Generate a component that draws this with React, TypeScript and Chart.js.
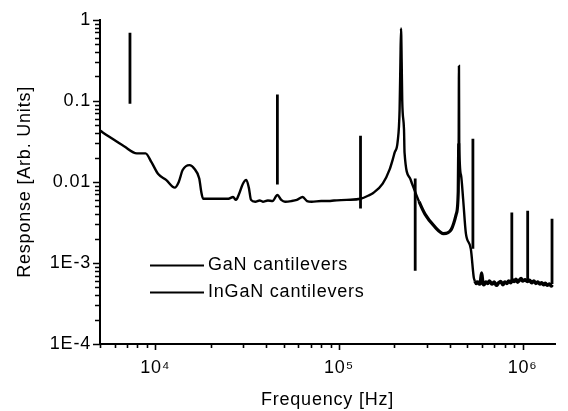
import React, { useEffect, useRef } from "react";
import { Chart, registerables } from "chart.js";

Chart.register(...registerables);

// GaN cantilevers: broad response curve (Hz, arb. units)
const ganFreq = [
  5000, 5620, 6760, 7930, 8850, 9530, 10370, 11450, 12770, 13420, 14090, 15360,
  16320, 17350, 17800, 18200, 22000, 25000, 26500, 27500, 28500, 30000, 31300,
  32300, 33200, 35000, 37000, 38500, 41000, 43500, 46200, 48500, 50900, 55000,
  59000, 63500, 67000, 71000, 80000, 88000, 94000, 110000, 131000, 145000,
  153600, 173000, 189000, 196300, 200900, 208500, 213900, 216000, 217700,
  219500, 221000, 226000, 227500, 244000, 250000, 273000, 294000, 332000,
  371000, 409000, 435000, 446000, 448500, 450000, 451500, 462000, 474000,
  491000, 522000, 542000, 550000, 560000, 570000, 580000, 590000, 598000,
  606000, 615000, 630000, 645000, 660000, 680000, 700000, 720000, 740000,
  760000, 780000, 800000, 820000, 840000, 860000, 880000, 900000, 920000,
  940000, 960000, 980000, 1000000, 1030000, 1060000, 1090000, 1120000, 1150000,
  1180000, 1210000, 1240000, 1270000, 1300000, 1330000, 1360000, 1400000,
  1430000, 1450000,
];
const ganResp = [
  0.043, 0.036, 0.0275, 0.0225, 0.0225, 0.0175, 0.0125, 0.0106, 0.0085, 0.01,
  0.014, 0.0161, 0.0145, 0.011, 0.0075, 0.0062, 0.0062, 0.0062, 0.0065, 0.006,
  0.007, 0.0095, 0.0106, 0.0085, 0.006, 0.0057, 0.0059, 0.0057, 0.0059, 0.0058,
  0.0069, 0.006, 0.0057, 0.0058, 0.006, 0.0065, 0.0058, 0.0057, 0.0058, 0.0058,
  0.0059, 0.006, 0.0062, 0.0068, 0.0073, 0.0095, 0.0144, 0.019, 0.023, 0.031,
  0.08, 0.3, 0.78, 0.3, 0.1, 0.044, 0.023, 0.011, 0.0095, 0.0057, 0.004, 0.0028,
  0.0023, 0.0026, 0.004, 0.0076, 0.03, 0.27, 0.03, 0.012, 0.0062, 0.0023,
  0.0015, 0.00066, 0.0006, 0.00056, 0.00058, 0.00055, 0.00059, 0.00075,
  0.00057, 0.00054, 0.00058, 0.00056, 0.0006, 0.00055, 0.00058, 0.00053,
  0.00057, 0.00059, 0.00054, 0.00058, 0.00056, 0.0006, 0.00057, 0.00062,
  0.00059, 0.00063, 0.00058, 0.00061, 0.00064, 0.0006, 0.00062, 0.00059,
  0.00061, 0.00057, 0.0006, 0.00056, 0.00058, 0.00055, 0.00057, 0.00054,
  0.00056, 0.00053, 0.00055, 0.00052, 0.00054,
];

// InGaN cantilevers: narrow resonance lines (Hz, low and high response)
const inganFreq = [7280, 46200, 131000, 260000, 536000, 873000, 1065000, 1445000];
const inganLow = [0.092, 0.0093, 0.0047, 0.0008, 0.0015, 0.00057, 0.0006, 0.00055];
const inganHigh = [0.69, 0.12, 0.037, 0.011, 0.034, 0.0042, 0.0044, 0.0035];

const xTickLabels: Record<number, string> = {
  4: "10\u2074",
  5: "10\u2075",
  6: "10\u2076",
};
const yTickLabels: Record<number, string> = {
  0: "1",
  [-1]: "0.1",
  [-2]: "0.01",
  [-3]: "1E-3",
  [-4]: "1E-4",
};

const FONT = "'Liberation Sans', Arial, Helvetica, sans-serif";

function isDecade(v: number) {
  const l = Math.log10(v);
  return Math.abs(l - Math.round(l)) < 1e-9;
}
function isMinorStep(v: number) {
  const e = Math.floor(Math.log10(v) + 1e-9);
  const m = v / Math.pow(10, e);
  return Math.abs(m - Math.round(m)) < 1e-6;
}

export default function App() {
  const ref = useRef<HTMLCanvasElement | null>(null);

  useEffect(() => {
    if (!ref.current) return;

    const spacing = {
      id: "spacing",
      beforeLayout(chart: any) {
        chart.ctx.letterSpacing = "0.8px";
      },
      beforeDraw(chart: any) {
        chart.ctx.letterSpacing = "0.8px";
      },
    };

    const tickMarks = {
      id: "tickMarks",
      afterDraw(chart: any) {
        const ctx = chart.ctx;
        const xs = chart.scales.x;
        const ys = chart.scales.y;
        ctx.save();
        ctx.strokeStyle = "#000";
        ctx.lineWidth = 1.6;
        ctx.beginPath();
        for (const t of xs.ticks) {
          if (!isMinorStep(t.value)) continue;
          const px = Math.round(xs.getPixelForValue(t.value)) + 0.5;
          const len = isDecade(t.value) ? 6 : 4;
          ctx.moveTo(px, xs.top);
          ctx.lineTo(px, xs.top + len);
        }
        for (const t of ys.ticks) {
          if (!isMinorStep(t.value)) continue;
          const py = Math.round(ys.getPixelForValue(t.value)) + 0.5;
          const len = isDecade(t.value) ? 7 : 5;
          ctx.moveTo(ys.right, py);
          ctx.lineTo(ys.right - len, py);
        }
        ctx.stroke();
        ctx.restore();
      },
    };

    const legendInside = {
      id: "legendInside",
      afterDraw(chart: any) {
        const ctx = chart.ctx;
        ctx.save();
        ctx.letterSpacing = "0.8px";
        ctx.font = `18px ${FONT}`;
        ctx.fillStyle = "#000";
        ctx.strokeStyle = "#000";
        ctx.lineWidth = 2;
        ctx.textBaseline = "middle";
        chart.data.datasets.forEach((ds: any, i: number) => {
          const y = 265.5 + 27 * i;
          ctx.beginPath();
          ctx.moveTo(150, y);
          ctx.lineTo(204, y);
          ctx.stroke();
          ctx.fillText(ds.label, 208, y);
        });
        ctx.restore();
      },
    };

    const ganData = ganFreq.map((f, i) => ({ x: f, y: ganResp[i] }));
    const inganData: any[] = [];
    inganFreq.forEach((f, i) => {
      if (i > 0) inganData.push({ x: f, y: null });
      inganData.push({ x: f, y: inganLow[i] });
      inganData.push({ x: f, y: inganHigh[i] });
    });

    const chart = new Chart(ref.current, {
      type: "line",
      data: {
        datasets: [
          {
            label: "GaN cantilevers",
            data: ganData,
            borderColor: "#000",
            borderWidth: 2.4,
            pointRadius: 0,
            cubicInterpolationMode: "monotone",
            fill: false,
            segment: {
              borderWidth: (c: any) => {
                const x = c.p0.parsed.x;
                if (x >= 545000) return 3.6;
                if (x >= 270000 && x <= 446000) return 3.2;
                return 2.4;
              },
            },
          },
          {
            label: "InGaN cantilevers",
            data: inganData,
            borderColor: "#000",
            borderWidth: 2.8,
            pointRadius: 0,
            tension: 0,
            spanGaps: false,
            fill: false,
          },
        ],
      },
      options: {
        animation: false,
        responsive: false,
        maintainAspectRatio: false,
        layout: { padding: { left: 0, right: 2, top: 16, bottom: 0 } },
        plugins: {
          legend: { display: false },
          tooltip: { enabled: false },
        },
        scales: {
          x: {
            type: "logarithmic",
            min: 5000,
            max: 1500000,
            afterFit(scale: any) {
              scale.height = 67;
            },
            grid: { display: true, drawOnChartArea: false, drawTicks: false },
            border: { display: true, color: "#000", width: 2 },
            ticks: {
              autoSkip: false,
              maxRotation: 0,
              padding: 13,
              color: "#000",
              font: { family: FONT, size: 18 },
              callback: (v: any) => {
                const n = Number(v);
                if (!isDecade(n)) return "";
                return xTickLabels[Math.round(Math.log10(n))] ?? "";
              },
            },
            title: {
              display: true,
              text: "Frequency [Hz]",
              color: "#000",
              font: { family: FONT, size: 18 },
              padding: { top: 0, bottom: 0 },
            },
          },
          y: {
            type: "logarithmic",
            min: 0.0001,
            max: 1,
            afterFit(scale: any) {
              scale.width = 100;
            },
            grid: { display: true, drawOnChartArea: false, drawTicks: false },
            border: { display: true, color: "#000", width: 2 },
            ticks: {
              autoSkip: false,
              padding: 9,
              color: "#000",
              font: { family: FONT, size: 18 },
              callback: (v: any) => {
                const n = Number(v);
                if (!isDecade(n)) return "";
                return yTickLabels[Math.round(Math.log10(n))] ?? "";
              },
            },
            title: {
              display: true,
              text: "Response [Arb. Units]",
              color: "#000",
              font: { family: FONT, size: 18 },
              padding: { top: 14, bottom: 0 },
            },
          },
        },
      },
      plugins: [spacing, tickMarks, legendInside],
    } as any);

    return () => chart.destroy();
  }, []);

  return (
    <div
      style={{
        position: "fixed",
        left: 0,
        top: 0,
        width: 568,
        height: 411,
        background: "#fff",
      }}
    >
      <canvas ref={ref} width={568} height={411} />
    </div>
  );
}
